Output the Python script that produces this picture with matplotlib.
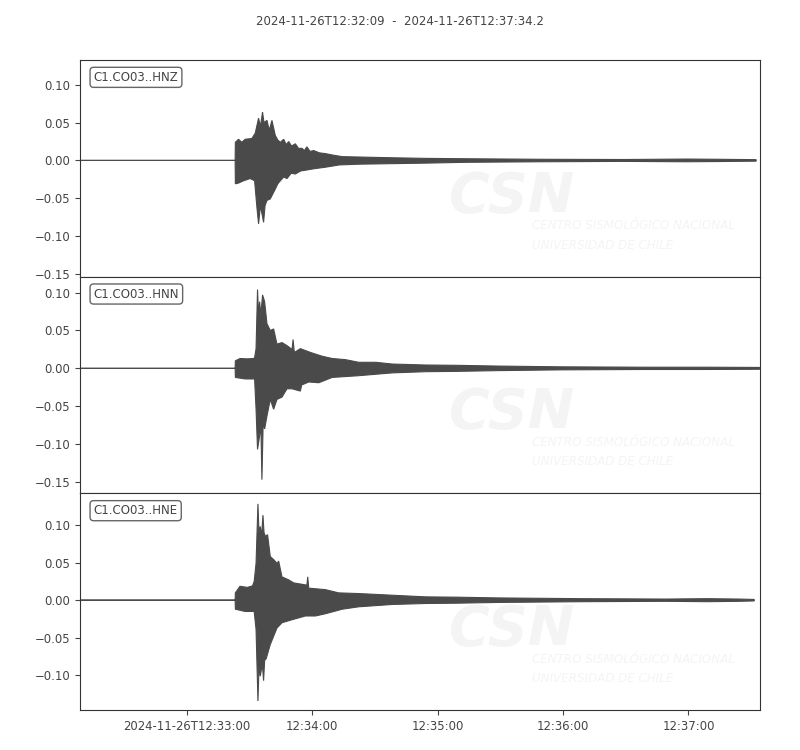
import numpy as np
import matplotlib.pyplot as plt
from matplotlib.ticker import MultipleLocator, FixedLocator

# Title and station channels
title = '2024-11-26T12:32:09  -  2024-11-26T12:37:34.2'
channels = ['C1.CO03..HNZ', 'C1.CO03..HNN', 'C1.CO03..HNE']

# Time axis: seconds after 2024-11-26T12:32:09
t_end = 325.2
tick_pos = [51, 111, 171, 231, 291]
tick_labels = ['2024-11-26T12:33:00', '12:34:00', '12:35:00', '12:36:00', '12:37:00']

# Y limits per channel (m/s^2)
ylims = [(-0.154, 0.133), (-0.165, 0.121), (-0.146, 0.142)]

# Envelope of each trace (upper and lower peaks)
hnz_t_up = [0, 74.2, 74.3, 75.8, 77.4, 79.0, 82.2, 83.8, 85.4, 86.3, 87.3, 88.0, 89.4, 90.5, 91.8,
            93.4, 94.6, 95.8, 97.4, 98.6, 99.8, 101.2, 103.0, 104.5, 106.2, 107.3, 108.5, 110.0,
            111.8, 114.5, 117.4, 121.0, 125.4, 133.3, 149.3, 165.3,
            185, 220, 260, 290, 305, 323.3, 323.4]
hnz_up = [0, 0, 0.024, 0.028, 0.024, 0.028, 0.029, 0.036, 0.056, 0.045, 0.064, 0.050, 0.053, 0.040, 0.053,
          0.033, 0.027, 0.024, 0.028, 0.021, 0.025, 0.019, 0.022, 0.016, 0.016, 0.013, 0.018, 0.012,
          0.013, 0.010, 0.009, 0.007, 0.005, 0.0045, 0.0035, 0.0027,
          0.0022, 0.0015, 0.0012, 0.0018, 0.0015, 0.0010, 0]
hnz_t_lo = [0, 74.2, 74.3, 75.8, 78.2, 81.4, 83.5, 84.6, 85.4, 86.3, 87.8, 88.5, 89.4, 91.0, 93.4,
            94.6, 95.8, 97.4, 99.0, 101.0, 103.0, 105.5, 107.8, 112.0, 117.4, 124.0, 133.3, 165.3,
            185, 220, 260, 290, 305, 323.3, 323.4]
hnz_lo = [0, 0, -0.031, -0.030, -0.027, -0.024, -0.027, -0.062, -0.084, -0.060, -0.082, -0.060, -0.053, -0.051, -0.038,
          -0.031, -0.027, -0.022, -0.024, -0.017, -0.018, -0.014, -0.013, -0.011, -0.009, -0.006, -0.005, -0.0036,
          -0.0025, -0.0018, -0.0013, -0.0018, -0.0015, -0.0010, 0]

hnn_t_up = [0, 74.2, 74.3, 76.6, 80.0, 83.0, 83.5, 84.2, 84.9, 85.4, 85.9, 86.5, 87.3, 88.3, 89.4,
            91.0, 92.6, 94.2, 96.6, 99.0, 101.4, 101.9, 102.5, 105.4, 110.2, 115.8, 120.6, 126.9,
            133.3, 141.3, 149.3, 165.3, 180, 200, 230, 270, 300, 325.0, 325.1]
hnn_up = [0, 0, 0.010, 0.013, 0.0125, 0.013, 0.014, 0.026, 0.104, 0.070, 0.088, 0.070, 0.097, 0.088, 0.059,
          0.050, 0.052, 0.032, 0.034, 0.030, 0.025, 0.038, 0.021, 0.026, 0.021, 0.016, 0.013, 0.0115,
          0.008, 0.008, 0.0057, 0.0044, 0.004, 0.003, 0.002, 0.0015, 0.0015, 0.0012, 0]
hnn_t_lo = [0, 74.2, 74.3, 79.0, 83.5, 84.2, 84.9, 85.9, 86.5, 87.0, 87.6, 88.3, 89.4, 91.0, 92.6,
            94.2, 96.6, 99.0, 101.4, 105.4, 106.0, 109.4, 114.2, 120.6, 133.3, 149.3, 165.3, 180,
            200, 230, 270, 300, 325.0, 325.1]
hnn_lo = [0, 0, -0.012, -0.014, -0.014, -0.054, -0.107, -0.089, -0.075, -0.147, -0.072, -0.080, -0.063, -0.041, -0.054,
          -0.041, -0.038, -0.027, -0.027, -0.030, -0.022, -0.018, -0.019, -0.012, -0.0097, -0.006, -0.0044, -0.004,
          -0.003, -0.002, -0.0015, -0.0015, -0.0012, 0]

hne_t_up = [0, 74.2, 74.3, 76.5, 80.0, 82.5, 83.3, 84.2, 85.1, 85.6, 86.2, 86.8, 87.5, 88.0, 88.6,
            89.7, 91.0, 92.6, 94.2, 95.0, 96.6, 99.8, 102.2, 108.5, 108.9, 109.4, 117.4, 123.7,
            133.3, 149.3, 165.3, 180, 200, 240, 280, 300, 315, 322.4, 322.5]
hne_up = [0, 0, 0.0097, 0.0185, 0.017, 0.019, 0.025, 0.049, 0.128, 0.090, 0.098, 0.085, 0.113, 0.090, 0.085,
          0.087, 0.058, 0.054, 0.049, 0.052, 0.031, 0.027, 0.023, 0.020, 0.031, 0.016, 0.014, 0.0097,
          0.0088, 0.0066, 0.0044, 0.004, 0.003, 0.002, 0.0015, 0.002, 0.0015, 0.001, 0]
hne_t_lo = [0, 74.2, 74.3, 79.0, 83.3, 84.2, 85.1, 85.6, 86.2, 87.2, 87.8, 88.3, 89.0, 91.0, 92.6,
            94.2, 96.6, 101.4, 107.8, 112.6, 117.4, 125.4, 133.3, 149.3, 165.3, 180, 200, 240,
            280, 300, 315, 322.4, 322.5]
hne_lo = [0, 0, -0.012, -0.015, -0.015, -0.039, -0.134, -0.090, -0.101, -0.085, -0.107, -0.080, -0.078, -0.059, -0.048,
          -0.037, -0.030, -0.026, -0.021, -0.021, -0.018, -0.012, -0.0088, -0.0057, -0.0044, -0.004, -0.003, -0.002,
          -0.0015, -0.002, -0.0015, -0.001, 0]

traces = [(hnz_t_up, hnz_up, hnz_t_lo, hnz_lo),
          (hnn_t_up, hnn_up, hnn_t_lo, hnn_lo),
          (hne_t_up, hne_up, hne_t_lo, hne_lo)]

wave_color = '#4a4a4a'
text_color = '#444444'
mark_color = '#f4f4f4'

fig, axs = plt.subplots(3, 1, figsize=(8, 7.5), dpi=100, sharex=True)
fig.subplots_adjust(left=0.1, right=0.95, top=0.92, bottom=0.0533, hspace=0)

for i, ax in enumerate(axs):
    t_up, up, t_lo, lo = traces[i]

    # Faint CSN watermark behind the trace
    ax.text(0.635, 0.37, 'CSN', transform=ax.transAxes, ha='center', va='center',
            fontsize=40, fontweight='bold', style='italic', color=mark_color, zorder=0, clip_on=True)
    ax.text(0.665, 0.235, 'CENTRO SISMOLÓGICO NACIONAL', transform=ax.transAxes,
            ha='left', va='center', fontsize=8.6, style='italic', color=mark_color, zorder=0, clip_on=True)
    ax.text(0.665, 0.145, 'UNIVERSIDAD DE CHILE', transform=ax.transAxes,
            ha='left', va='center', fontsize=8.6, style='italic', color=mark_color, zorder=0, clip_on=True)

    # Waveform envelope: upper path then lower path reversed
    xs = np.concatenate([t_up, t_lo[::-1]])
    ys = np.concatenate([up, lo[::-1]])
    ax.fill(xs, ys, facecolor=wave_color, edgecolor=wave_color, linewidth=0.8, zorder=2)

    # Channel label
    ax.text(0.02, 0.95, channels[i], transform=ax.transAxes, ha='left', va='top',
            fontsize=8.5, color=text_color, zorder=5,
            bbox=dict(boxstyle='round,pad=0.3', fc='white', ec='#666666', lw=1))

    ax.set_xlim(0, t_end)
    ax.set_ylim(*ylims[i])
    ax.yaxis.set_major_locator(MultipleLocator(0.05))
    ax.tick_params(labelsize=8.4, colors=text_color)
    for s in ax.spines.values():
        s.set_color('#333333')
    if i < 2:
        ax.tick_params(axis='x', bottom=False, labelbottom=False)

axs[-1].xaxis.set_major_locator(FixedLocator(tick_pos))
axs[-1].set_xticklabels(tick_labels)

fig.suptitle(title, y=0.98, fontsize=8.5, color=text_color)

plt.savefig('out.png')
